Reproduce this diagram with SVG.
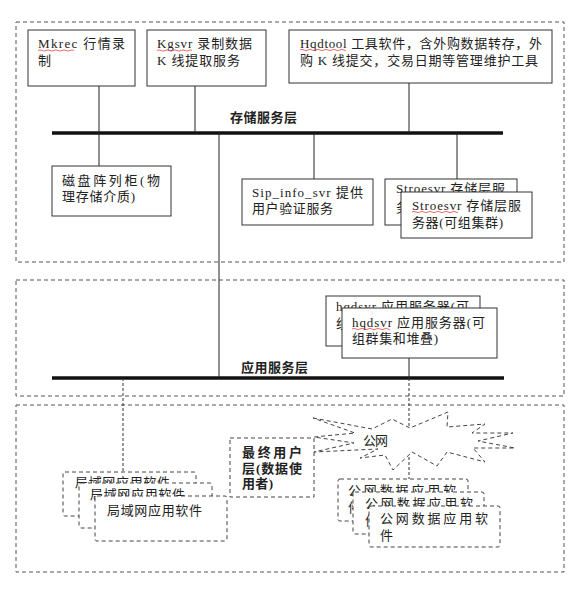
<svg xmlns="http://www.w3.org/2000/svg" width="574" height="592" viewBox="0 0 574 592">
<style>
.bg{fill:#fff}
.layer{fill:none;stroke:#555;stroke-width:1;stroke-dasharray:4 3}
.box{fill:#fff;stroke:#333;stroke-width:1}
.dbox{fill:#fff;stroke:#444;stroke-width:1;stroke-dasharray:4 3}
.t{font-family:"Liberation Serif","Noto Sans CJK SC",serif;font-size:13px;fill:#222}
.b{font-weight:bold}
.bus{stroke:#111;stroke-width:3.5}
.ln{stroke:#222;stroke-width:1;fill:none}
.dl{stroke:#333;stroke-width:1;stroke-dasharray:3 2;fill:none}
.sp{stroke:#e44;stroke-width:0.8;fill:none}
</style>
<rect class="bg" x="0" y="0" width="574" height="592"/>
<g id="layers">
<rect id="storage-layer" class="layer" x="16" y="22" width="548" height="240"/>
<rect id="app-layer" class="layer" x="16" y="280" width="548" height="116"/>
<rect id="user-layer" class="layer" x="16" y="405" width="548" height="167"/>
</g>
<g id="connectors">
<line class="bus" x1="52" y1="133" x2="503" y2="133"/>
<line class="bus" x1="52" y1="378" x2="504" y2="378"/>
<line class="ln" x1="99" y1="86" x2="99" y2="166"/>
<line class="ln" x1="195" y1="86" x2="195" y2="133"/>
<line class="ln" x1="409" y1="83" x2="409" y2="133"/>
<line class="ln" x1="219" y1="133" x2="219" y2="378"/>
<line class="ln" x1="314" y1="133" x2="314" y2="179"/>
<line class="ln" x1="457" y1="133" x2="457" y2="179"/>
<line class="ln" x1="409" y1="358" x2="409" y2="378"/>
<line class="dl" x1="409" y1="378" x2="409" y2="428"/>
<line class="dl" x1="123" y1="378" x2="123" y2="472"/>
<line class="dl" x1="409" y1="452" x2="409" y2="479"/>
</g>
<g id="label-storage"><text class="t b" x="230" y="121.5" textLength="67" lengthAdjust="spacing">存储服务层</text></g>
<g id="label-app"><text class="t b" x="241" y="371.5" textLength="67" lengthAdjust="spacing">应用服务层</text></g>
<g id="mkrec">
<rect class="box" x="28" y="30" width="107" height="56"/>
<text class="t" x="38" y="48" textLength="87" lengthAdjust="spacing">Mkrec 行情录</text>
<text class="t" x="38" y="65">制</text>
<path class="sp" d="M38 50.5 q2 -1.2 4 0 t4 0 t4 0 t4 0 t4 0 t4 0 t4 0 t4 0 t4 0"/>
</g>
<g id="kgsvr">
<rect class="box" x="147" y="30" width="119" height="56"/>
<text class="t" x="157" y="48" textLength="95" lengthAdjust="spacing">Kgsvr 录制数据</text>
<text class="t" x="157" y="65" textLength="83" lengthAdjust="spacing">K 线提取服务</text>
<path class="sp" d="M157 50.5 q2 -1.2 4 0 t4 0 t4 0 t4 0 t4 0 t4 0 t4 0 t4 0 t3 0"/>
</g>
<g id="hqdtool">
<rect class="box" x="289" y="30" width="263" height="53"/>
<text class="t" x="300" y="47.5" textLength="242" lengthAdjust="spacing">Hqdtool 工具软件，含外购数据转存，外</text>
<text class="t" x="300" y="65" textLength="238" lengthAdjust="spacing">购 K 线提交，交易日期等管理维护工具</text>
<path class="sp" d="M300 50 q2 -1.2 4 0 t4 0 t4 0 t4 0 t4 0 t4 0 t4 0 t4 0 t4 0 t4 0 t4 0 t1 0"/>
</g>
<g id="disk">
<rect class="box" x="52" y="166" width="119" height="50"/>
<text class="t" x="62" y="184.5" textLength="98" lengthAdjust="spacing">磁盘阵列柜(物</text>
<text class="t" x="62" y="200.5" textLength="73" lengthAdjust="spacing">理存储介质)</text>
</g>
<g id="sip">
<rect class="box" x="242" y="179" width="131" height="46"/>
<text class="t" x="252" y="196.5" textLength="111" lengthAdjust="spacing">Sip_info_svr 提供</text>
<text class="t" x="252" y="212.5" textLength="81" lengthAdjust="spacing">用户验证服务</text>
</g>
<g id="stroesvr-back">
<rect class="box" x="385" y="179" width="132" height="46"/>
<text class="t" x="396" y="192.5" textLength="109" lengthAdjust="spacing">Stroesvr 存储层服</text>
<text class="t" x="396" y="212" textLength="91" lengthAdjust="spacing">务器(可组集群)</text>
</g>
<g id="stroesvr">
<rect class="box" x="401" y="192" width="131" height="46"/>
<text class="t" x="412" y="209.5" textLength="109" lengthAdjust="spacing">Stroesvr 存储层服</text>
<text class="t" x="412" y="226.5" textLength="91" lengthAdjust="spacing">务器(可组集群)</text>
<path class="sp" d="M412 212 q2 -1.2 4 0 t4 0 t4 0 t4 0 t4 0 t4 0 t4 0 t4 0 t4 0 t4 0 t4 0 t2 0"/>
</g>
<g id="hqdsvr-back">
<rect class="box" x="326" y="296" width="154" height="50"/>
<text class="t" x="336" y="310.5" textLength="133" lengthAdjust="spacing">hqdsvr 应用服务器(可</text>
<text class="t" x="336" y="327.5" textLength="86" lengthAdjust="spacing">组群集和堆叠)</text>
</g>
<g id="hqdsvr">
<rect class="box" x="342" y="308" width="155" height="50"/>
<text class="t" x="352" y="326.5" textLength="133" lengthAdjust="spacing">hqdsvr 应用服务器(可</text>
<text class="t" x="352" y="343" textLength="86" lengthAdjust="spacing">组群集和堆叠)</text>
<path class="sp" d="M352 329 q2 -1.2 4 0 t4 0 t4 0 t4 0 t4 0 t4 0 t4 0 t4 0 t4 0 t2 0"/>
</g>
<g id="enduser">
<rect class="dbox" x="230" y="438" width="84" height="59"/>
<text class="t b" x="242" y="456.5" textLength="60" lengthAdjust="spacing">最终用户</text>
<text class="t b" x="242" y="472.5" textLength="60" lengthAdjust="spacing">层(数据使</text>
<text class="t b" x="242" y="488" textLength="31" lengthAdjust="spacing">用者)</text>
</g>
<g id="internet">
<polygon class="dbox" points="313,418 372,429 392,419 410,428 448,412 447,427 485,424 472,433 513,433 478,441 515,448 473,448 485,462 447,452 437,466 412,452 393,470 385,455 360,458 378,449 314,452 354,443 314,437 355,433"/>
<text class="t" x="363" y="444.5" textLength="25" lengthAdjust="spacing">公网</text>
</g>
<g id="lan-back1">
<rect class="dbox" x="63" y="472" width="133" height="44" rx="2"/>
<text class="t" x="75" y="487" textLength="95" lengthAdjust="spacing">局域网应用软件</text>
</g>
<g id="lan-back2">
<rect class="dbox" x="79" y="483" width="133" height="45" rx="2"/>
<text class="t" x="90" y="499" textLength="95" lengthAdjust="spacing">局域网应用软件</text>
</g>
<g id="lan">
<rect class="dbox" x="95" y="496" width="132" height="45" rx="2"/>
<text class="t" x="107" y="514.5" textLength="95" lengthAdjust="spacing">局域网应用软件</text>
</g>
<g id="pub-back1">
<rect class="dbox" x="338" y="479" width="130" height="42" rx="2"/>
<text class="t" x="348" y="495" textLength="108" lengthAdjust="spacing">公网数据应用软</text>
<text class="t" x="348" y="512">件</text>
</g>
<g id="pub-back2">
<rect class="dbox" x="353" y="492" width="131" height="42" rx="2"/>
<text class="t" x="365" y="508" textLength="108" lengthAdjust="spacing">公网数据应用软</text>
<text class="t" x="365" y="525">件</text>
</g>
<g id="pub">
<rect class="dbox" x="369" y="506" width="131" height="41" rx="2"/>
<text class="t" x="380" y="522.5" textLength="108" lengthAdjust="spacing">公网数据应用软</text>
<text class="t" x="380" y="539.5">件</text>
</g>
</svg>
